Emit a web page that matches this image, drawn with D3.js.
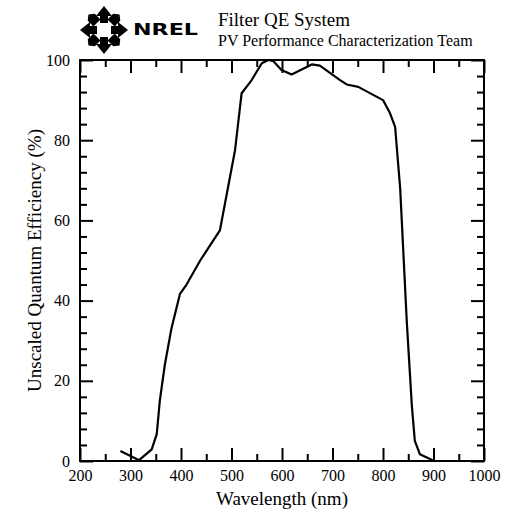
<!DOCTYPE html>
<html>
<head>
<meta charset="utf-8">
<script src="https://cdn.jsdelivr.net/npm/d3@7"></script>
<style>
  body { margin: 0; background: #fff; }
  svg { display: block; }
  text { font-family: "Liberation Serif", "Times New Roman", serif; fill: #000; }
</style>
</head>
<body>
<div id="chart"></div>
<script>
// curve
const wavelength = [280, 317, 342, 352, 358, 368, 381, 398, 411, 438, 477, 507, 520, 540, 560, 573, 583, 599, 619, 659, 675, 715, 728, 751, 800, 814, 824, 834, 847, 857, 863, 873, 893, 900];
const qe = [2.5, 0.2, 2.9, 6.7, 15, 24, 33, 41.7, 44, 50, 57.5, 77.5, 91.7, 95, 99.2, 100, 99.7, 97.5, 96.4, 98.9, 98.6, 95, 93.9, 93.3, 90, 86.7, 83.3, 68, 35, 14, 5, 1.7, 0.5, 0];

const xMajor = [200, 300, 400, 500, 600, 700, 800, 900, 1000];
const xMinor = [250, 350, 450, 550, 650, 750, 850, 950];
const yMajor = [0, 20, 40, 60, 80, 100];
const yMinor = [4, 8, 12, 16, 24, 28, 32, 36, 44, 48, 52, 56, 64, 68, 72, 76, 84, 88, 92, 96];

const W = 506, H = 518;
const margin = { top: 60, right: 22, bottom: 57, left: 80 };
const width = W - margin.left - margin.right;
const height = H - margin.top - margin.bottom;

const svg = d3.select('#chart').append('svg')
  .attr('width', W)
  .attr('height', H);

const g = svg.append('g')
  .attr('transform', `translate(${margin.left},${margin.top})`);

const x = d3.scaleLinear().domain([200, 1000]).range([0, width]);
const y = d3.scaleLinear().domain([0, 100]).range([height, 0]);

function styleAxis(sel) {
  sel.select('.domain').remove();
  sel.selectAll('line').attr('stroke', '#000').attr('stroke-width', 2);
  sel.selectAll('text').style('font-size', '16px').style('font-family', '"Liberation Serif", serif');
}

// bottom
g.append('g').attr('transform', `translate(0,${height})`)
  .call(d3.axisBottom(x).tickValues(xMajor).tickSize(-13).tickPadding(9).tickFormat(d3.format('d')))
  .call(styleAxis);
g.append('g').attr('transform', `translate(0,${height})`)
  .call(d3.axisBottom(x).tickValues(xMinor).tickSize(-7).tickFormat(''))
  .call(styleAxis);
// top
g.append('g')
  .call(d3.axisTop(x).tickValues(xMajor).tickSize(-13).tickFormat(''))
  .call(styleAxis);
g.append('g')
  .call(d3.axisTop(x).tickValues(xMinor).tickSize(-7).tickFormat(''))
  .call(styleAxis);
// left
g.append('g')
  .call(d3.axisLeft(y).tickValues(yMajor).tickSize(-13).tickPadding(10).tickFormat(d3.format('d')))
  .call(styleAxis);
g.append('g')
  .call(d3.axisLeft(y).tickValues(yMinor).tickSize(-7).tickFormat(''))
  .call(styleAxis);
// right
g.append('g').attr('transform', `translate(${width},0)`)
  .call(d3.axisRight(y).tickValues(yMajor).tickSize(-13).tickFormat(''))
  .call(styleAxis);
g.append('g').attr('transform', `translate(${width},0)`)
  .call(d3.axisRight(y).tickValues(yMinor).tickSize(-7).tickFormat(''))
  .call(styleAxis);

// frame
g.append('rect')
  .attr('width', width)
  .attr('height', height)
  .attr('fill', 'none')
  .attr('stroke', '#000')
  .attr('stroke-width', 2);

// the curve
const pts = wavelength.map((w, i) => ({ w, v: qe[i] }));
const line = d3.line().x(d => x(d.w)).y(d => y(d.v));
g.append('path')
  .datum(pts)
  .attr('fill', 'none')
  .attr('stroke', '#000')
  .attr('stroke-width', 2.2)
  .attr('stroke-linejoin', 'round')
  .attr('d', line);

// axis titles
svg.append('text')
  .attr('x', margin.left + width / 2)
  .attr('y', 505)
  .attr('text-anchor', 'middle')
  .style('font-size', '19px')
  .text('Wavelength (nm)');

svg.append('text')
  .attr('transform', `translate(41,${margin.top + height / 2}) rotate(-90)`)
  .attr('text-anchor', 'middle')
  .style('font-size', '19px')
  .text('Unscaled Quantum Efficiency (%)');

// header: logo + titles
const logo = svg.append('g').attr('transform', 'translate(104,30)');
const arrow = 'M-4,-7 L4,-7 L4,-14 L8,-14 L0,-24 L-8,-14 L-4,-14 Z';
[0, 90, 180, 270].forEach(a => {
  logo.append('path').attr('d', arrow).attr('transform', `rotate(${a})`).attr('fill', '#000');
});
[45, 135, 225, 315].forEach(a => {
  logo.append('path')
    .attr('d', 'M-5,-10 L5,-10 L5,-18 L0,-22 L-5,-18 Z')
    .attr('transform', `rotate(${a})`)
    .attr('fill', '#000');
});

svg.append('text')
  .attr('x', 133)
  .attr('y', 35)
  .attr('textLength', 65)
  .attr('lengthAdjust', 'spacingAndGlyphs')
  .style('font-family', '"DejaVu Sans", sans-serif')
  .style('font-weight', 'bold')
  .style('font-size', '16px')
  .text('NREL');

svg.append('text')
  .attr('x', 218)
  .attr('y', 26)
  .style('font-size', '19px')
  .text('Filter QE System');

svg.append('text')
  .attr('x', 218)
  .attr('y', 46)
  .style('font-size', '16px')
  .text('PV Performance Characterization Team');
</script>
</body>
</html>
